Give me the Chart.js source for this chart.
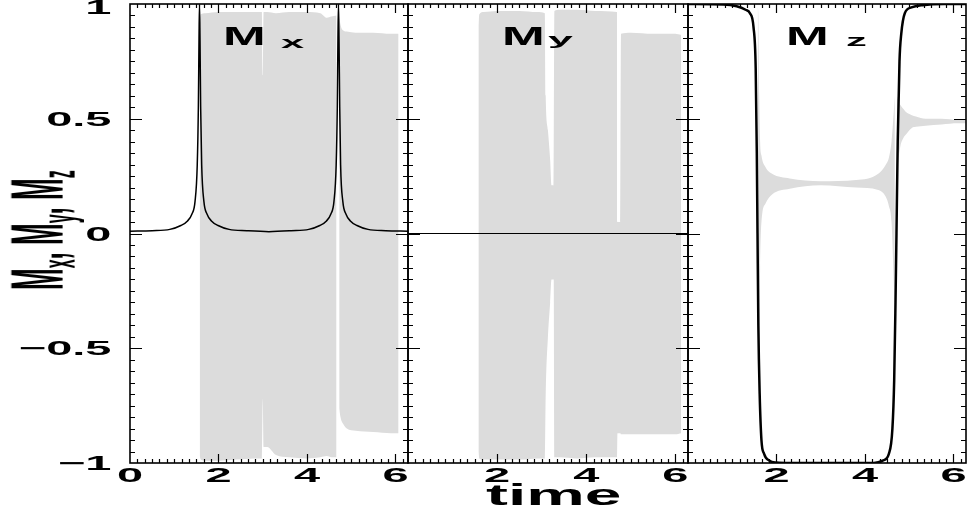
<!DOCTYPE html>
<html>
<head>
<meta charset="utf-8">
<script src="https://cdn.jsdelivr.net/npm/chart.js@4/dist/chart.umd.min.js"></script>
<style>
html,body{margin:0;padding:0;background:#fff;}
#fig{position:relative;width:967px;height:510px;overflow:hidden;font-family:"Liberation Sans",Arial,sans-serif;}
#fig canvas{position:absolute;top:0;}
.lbl{position:absolute;white-space:nowrap;line-height:1;transform-origin:0 0;color:#000;font-weight:bold;}
.sub{font-size:16px;position:relative;top:3.5px;}
</style>
</head>
<body>
<div id="fig">
  <canvas id="cMx" width="410" height="510" style="left:0"></canvas>
  <canvas id="cMy" width="284" height="510" style="left:406px"></canvas>
  <canvas id="cMz" width="281" height="510" style="left:686px"></canvas>

  <!-- panel titles -->
  <div class="lbl" style="left:223px;top:24px;font-size:25px;transform:scaleX(2.05)">M</div>
  <div class="lbl" style="left:281px;top:35px;font-size:16px;transform:scaleX(2.6)">x</div>
  <div class="lbl" style="left:502px;top:24px;font-size:25px;transform:scaleX(2.05)">M</div>
  <div class="lbl" style="left:548px;top:32px;font-size:16px;transform:scaleX(2.8)">y</div>
  <div class="lbl" style="left:786px;top:24px;font-size:25px;transform:scaleX(2.05)">M</div>
  <div class="lbl" style="left:846px;top:33px;font-size:16px;transform:scaleX(2.6)">z</div>

  <!-- axis titles -->
  <div class="lbl" style="left:486px;top:481px;font-size:29px;transform:scaleX(2.27)">time</div>
  <div class="lbl" style="left:0;top:0;font-size:26px;transform:translate(0.3px,290px) scaleX(2.85) rotate(-90deg)">M<span class="sub">x</span>, M<span class="sub">y</span>, M<span class="sub">z</span></div>
</div>

<script>
/* ── data ──────────────────────────────────────────────────── */
const X_MAX = 6.2832;
const X_TICKS = [0, 2, 4, 6];
const Y_TICKS = [1, 0.5, 0, -0.5, -1];
const Y_TICK_TEXT = ["1", "0.5", "0", "\u22120.5", "\u22121"];

// black curves
const MX_T = [0, 0.5, 0.9, 1.15, 1.3, 1.4, 1.47, 1.52, 1.545, 1.56, 1.571, 1.582, 1.597, 1.62, 1.67, 1.74, 1.84, 1.99, 2.24, 2.64,
              3.14, 3.64, 4.04, 4.29, 4.44, 4.54, 4.61, 4.66, 4.685, 4.70, 4.712, 4.724, 4.74, 4.76, 4.81, 4.88, 4.98, 5.13, 5.38, 5.78, 6.2832];
const MX_V = [0.010, 0.012, 0.018, 0.035, 0.055, 0.085, 0.14, 0.30, 0.55, 0.85, 1.0, 0.85, 0.55, 0.30, 0.14, 0.085, 0.055, 0.035, 0.018, 0.012,
              0.008, 0.012, 0.018, 0.035, 0.055, 0.085, 0.14, 0.30, 0.55, 0.85, 1.0, 0.85, 0.55, 0.30, 0.14, 0.085, 0.055, 0.035, 0.018, 0.012, 0.010];
const MY_T = [0, 6.2832];
const MY_V = [0, 0];
const MZ_T = [0, 0.8, 1.1, 1.3, 1.4, 1.48, 1.53, 1.555, 1.571, 1.59, 1.62, 1.66, 1.72, 1.84, 2.0, 2.3, 4.2, 4.4, 4.54, 4.62,
              4.66, 4.69, 4.712, 4.74, 4.78, 4.82, 4.9, 5.05, 5.3, 5.8, 6.2832];
const MZ_V = [1, 0.998, 0.99, 0.975, 0.96, 0.9, 0.72, 0.35, 0, -0.4, -0.7, -0.9, -0.96, -0.99, -0.998, -1, -1, -0.99, -0.96, -0.85,
              -0.64, -0.3, 0, 0.4, 0.75, 0.87, 0.96, 0.985, 0.995, 1, 1];

// grey oscillation envelopes (upper / lower)
const BX1_T  = [1.575, 1.6, 1.7, 2.0, 2.4, 2.8, 2.98, 3.0, 3.02, 3.1, 3.3, 3.6, 4.0, 4.3, 4.45, 4.55, 4.668];
const BX1_HI = [0.93, 0.955, 0.96, 0.965, 0.965, 0.965, 0.965, 0.69, 0.965, 0.965, 0.96, 0.965, 0.965, 0.96, 0.94, 0.945, 0.95];
const BX1_LO = [-0.97, -0.985, -0.99, -0.99, -0.985, -0.98, -0.98, -0.72, -0.93, -0.93, -0.965, -0.975, -0.98, -0.975, -0.97, -0.975, -0.975];
const BX2_T  = [4.728, 4.74, 4.77, 4.82, 4.9, 5.1, 5.5, 5.9, 6.07];
const BX2_HI = [0.95, 0.93, 0.9, 0.885, 0.88, 0.875, 0.875, 0.87, 0.87];
const BX2_LO = [-0.76, -0.78, -0.81, -0.83, -0.85, -0.86, -0.865, -0.87, -0.87];

const BY_T  = [1.58, 1.6, 1.7, 2.0, 2.5, 2.9, 3.07, 3.09, 3.14, 3.19, 3.22, 3.27, 3.285, 3.4, 3.8, 4.2, 4.69, 4.70, 4.765, 4.78, 5.0, 5.5, 6.0, 6.13];
const BY_HI = [0.9, 0.955, 0.965, 0.97, 0.97, 0.965, 0.96, 0.6, 0.45, 0.32, 0.21, 0.21, 0.97, 0.975, 0.975, 0.97, 0.965, 0.05, 0.05, 0.87, 0.875, 0.87, 0.87, 0.865];
const BY_LO = [-0.95, -0.98, -0.985, -0.985, -0.985, -0.98, -0.98, -0.7, -0.45, -0.3, -0.2, -0.2, -0.975, -0.975, -0.98, -0.975, -0.975, -0.87, -0.87, -0.875, -0.875, -0.875, -0.875, -0.87];

const BZ1_T  = [1.575, 1.59, 1.61, 1.63, 1.66, 1.75, 1.9, 2.3, 3.0, 3.8, 4.3, 4.47, 4.54, 4.6, 4.64, 4.675];
const BZ1_HI = [0.99, 0.95, 0.6, 0.4, 0.34, 0.29, 0.26, 0.24, 0.228, 0.233, 0.26, 0.3, 0.33, 0.4, 0.5, 0.6];
const BZ1_LO = [0.9, 0.2, -0.5, -0.15, 0.05, 0.13, 0.17, 0.195, 0.21, 0.2, 0.19, 0.16, 0.12, 0.05, -0.15, -0.35];
const BZ2_T  = [4.72, 4.76, 4.8, 4.88, 4.92, 5.06, 5.15, 5.37, 5.73, 6.11, 6.2832];
const BZ2_HI = [0.6, 0.575, 0.56, 0.54, 0.53, 0.515, 0.51, 0.5, 0.5, 0.495, 0.495];
const BZ2_LO = [0.25, 0.33, 0.38, 0.42, 0.43, 0.46, 0.465, 0.47, 0.475, 0.48, 0.48];

/* ── helpers ───────────────────────────────────────────────── */
const GREY = "#dcdcdc";
const pts = (xs, ys) => xs.map((x, i) => ({ x, y: ys[i] }));

function band(xs, hi, lo) {
  return [
    { data: pts(xs, lo), borderWidth: 0, pointRadius: 0, fill: false, order: 2, cubicInterpolationMode: "monotone" },
    { data: pts(xs, hi), borderWidth: 0, pointRadius: 0, fill: "-1", backgroundColor: GREY, order: 1, cubicInterpolationMode: "monotone" },
  ];
}

// stretched text, like the original figure
function wideText(ctx, txt, x, y, align, sx) {
  ctx.save();
  ctx.translate(x, y);
  ctx.scale(sx, 1);
  ctx.textAlign = align;
  ctx.fillText(txt, 0, 0);
  ctx.restore();
}

/* ── frame, inward ticks and tick labels ───────────────────── */
const frameTicks = {
  id: "frameTicks",
  afterDatasetsDraw(chart, args, o) {
    const { ctx, chartArea: a, scales: { x, y } } = chart;
    ctx.save();
    ctx.strokeStyle = "#000";
    ctx.lineWidth = 1.2;
    ctx.beginPath();
    for (let i = 1; i < 40; i++) {
      const py = Math.round(y.getPixelForValue(-1 + i * 0.05)) + 0.5;
      const len = i % 10 === 0 ? 12 : 5;
      ctx.moveTo(a.left, py);  ctx.lineTo(a.left + len, py);
      ctx.moveTo(a.right, py); ctx.lineTo(a.right - len, py);
    }
    for (let i = 1; i / 6 < x.max; i++) {
      const px = Math.round(x.getPixelForValue(i / 6)) + 0.5;
      const len = i % 12 === 0 ? 9 : 4;
      ctx.moveTo(px, a.bottom); ctx.lineTo(px, a.bottom - len);
      ctx.moveTo(px, a.top);    ctx.lineTo(px, a.top + len);
    }
    ctx.stroke();
    ctx.lineWidth = 1.6;
    ctx.strokeRect(a.left, a.top, a.right - a.left, a.bottom - a.top);
    ctx.restore();
  },
  afterDraw(chart, args, o) {
    const { ctx, scales: { x, y } } = chart;
    ctx.save();
    ctx.fillStyle = "#000";
    ctx.font = "bold 20px 'Liberation Sans', Arial, sans-serif";
    X_TICKS.forEach(v => {
      if (v === 0 && !o.showZero) return;
      wideText(ctx, String(v), x.getPixelForValue(v), 482, "center", 2.35);
    });
    if (o.yLabels) {
      Y_TICKS.forEach((v, i) => {
        const py = Math.max(y.getPixelForValue(v) + 7, 14);
        wideText(ctx, Y_TICK_TEXT[i], 111.5, py, "right", 2.35);
      });
    }
    ctx.restore();
  },
};

function panel(id, datasets, pad, opts) {
  return new Chart(document.getElementById(id), {
    type: "line",
    data: { datasets },
    options: {
      responsive: false,
      animation: false,
      layout: { padding: pad },
      elements: { point: { radius: 0 } },
      plugins: { legend: { display: false }, tooltip: { enabled: false }, frameTicks: opts },
      scales: {
        x: { type: "linear", min: 0, max: X_MAX, display: false },
        y: { type: "linear", min: -1, max: 1, display: false },
      },
    },
    plugins: [frameTicks],
  });
}

const line = (xs, ys, w) => ({
  data: pts(xs, ys), borderColor: "#000", borderWidth: w, pointRadius: 0, fill: false, order: 0,
  cubicInterpolationMode: "monotone", clip: 0,
});

panel("cMx", [line(MX_T, MX_V, 1.5), ...band(BX1_T, BX1_HI, BX1_LO), ...band(BX2_T, BX2_HI, BX2_LO)],
      { left: 130, right: 2, top: 4, bottom: 47 }, { showZero: true, yLabels: true });
panel("cMy", [line(MY_T, MY_V, 1.2), ...band(BY_T, BY_HI, BY_LO)],
      { left: 2, right: 2, top: 4, bottom: 47 }, { showZero: false, yLabels: false });
panel("cMz", [line(MZ_T, MZ_V, 2.5), ...band(BZ1_T, BZ1_HI, BZ1_LO), ...band(BZ2_T, BZ2_HI, BZ2_LO)],
      { left: 2, right: 1, top: 4, bottom: 47 }, { showZero: false, yLabels: false });
</script>
</body>
</html>
